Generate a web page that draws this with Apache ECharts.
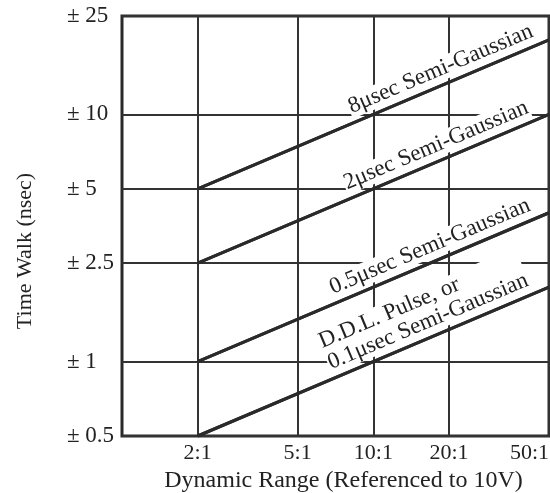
<!DOCTYPE html>
<html><head><meta charset="utf-8">
<script src="https://cdn.jsdelivr.net/npm/echarts@6/dist/echarts.min.js"></script>
<style>html,body{margin:0;padding:0;background:#fff}#c{width:550px;height:493px}</style>
</head><body><div id="c"></div>
<script>
const xTicks = [2, 5, 10, 20, 50];
const xTickLabels = ['2:1', '5:1', '10:1', '20:1', '50:1'];
const yTicks = [0.5, 1, 2.5, 5, 10, 25];
const yTickLabels = ['± 0.5', '± 1', '± 2.5', '± 5', '± 10', '± 25'];
const lineX = [2, 10, 50];
const walk8us = [5, 10, 20];
const walk2us = [2.5, 5, 10];
const walk05us = [1, 2, 4];
const walkDDL = [0.5, 1, 2];
const seriesNames = ['8μsec Semi-Gaussian', '2μsec Semi-Gaussian', '0.5μsec Semi-Gaussian', 'D.D.L. Pulse, or\n0.1μsec Semi-Gaussian'];

const FONT = '"Liberation Serif", "DejaVu Serif", serif';
const INK = '#2a2a2a';

function pick(ticks, labels, v) {
  const i = ticks.findIndex(t => Math.abs(t - v) / t < 1e-6);
  return i >= 0 ? labels[i] : '';
}

function mk(name, ys, pos, dist, align) {
  const last = lineX.length - 1;
  return {
    type: 'line', name: name,
    data: lineX.map((x, i) => [x, ys[i]]),
    showSymbol: false, symbol: 'none', silent: true, z: 3,
    lineStyle: { color: INK, width: 3 },
    markLine: {
      silent: true, symbol: 'none', animation: false,
      lineStyle: { color: INK, width: 3, type: 'solid' },
      emphasis: { disabled: true },
      label: {
        show: true, position: pos, formatter: name, distance: dist, align: align,
        fontFamily: FONT, fontSize: 23, lineHeight: 23, color: '#222',
        backgroundColor: '#fff', padding: [0, 1, 0, 1]
      },
      data: [[{ coord: [lineX[0], ys[0]] }, { coord: [lineX[last], ys[last]] }]]
    }
  };
}

const chart = echarts.init(document.getElementById('c'), null, { renderer: 'canvas' });
chart.setOption({
  animation: false,
  backgroundColor: '#fff',
  grid: { left: 122, right: 1, top: 16, bottom: 57, outerBoundsMode: 'none', containLabel: false,
    show: true, borderColor: INK, borderWidth: 3, backgroundColor: 'transparent' },
  xAxis: {
    type: 'log', logBase: 10, min: 1, max: 50,
    axisLine: { show: false },
    axisTick: { show: false, customValues: xTicks },
    axisLabel: { customValues: xTicks, formatter: v => pick(xTicks, xTickLabels, v), margin: 6,
      fontFamily: FONT, fontSize: 22, color: '#222', hideOverlap: false, alignMaxLabel: 'right' },
    splitLine: { show: true, lineStyle: { color: '#333', width: 2 } },
    name: 'Dynamic Range (Referenced to 10V)', nameLocation: 'middle', nameGap: 31,
    nameTextStyle: { fontFamily: FONT, fontSize: 24, color: '#222', padding: [0, 0, 0, 16] }
  },
  yAxis: {
    type: 'log', logBase: 10, min: 0.5, max: 25,
    axisLine: { show: false },
    axisTick: { show: false, customValues: yTicks },
    axisLabel: { customValues: yTicks, formatter: v => pick(yTicks, yTickLabels, v), margin: 55, align: 'left',
      fontFamily: FONT, fontSize: 23, color: '#222' },
    splitLine: { show: true, lineStyle: { color: '#333', width: 2 } },
    name: 'Time Walk (nsec)', nameLocation: 'middle', nameGap: 86, nameRotate: 90,
    nameTextStyle: { fontFamily: FONT, fontSize: 22, color: '#222', padding: [0, 50, 0, 0] }
  },
  series: [
    mk(seriesNames[0], walk8us, 'insideEndTop', [11, 4], null),
    mk(seriesNames[1], walk2us, 'insideEndTop', [16, 4], null),
    mk(seriesNames[2], walk05us, 'insideEndTop', [14, 4], null),
    mk(seriesNames[3], walkDDL, 'insideStartTop', [148, 4], 'left')
  ]
});
</script></body></html>
